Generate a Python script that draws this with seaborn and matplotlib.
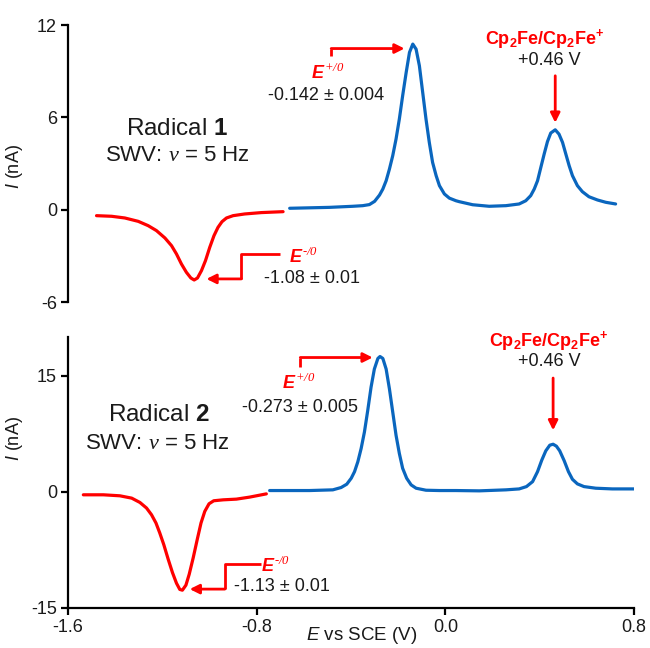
import matplotlib
matplotlib.use("Agg")
import matplotlib.pyplot as plt
import seaborn as sns

# ---------------- data ----------------
top_red_E = [-1.479, -1.415, -1.359, -1.302, -1.260, -1.225, -1.189, -1.161, -1.140,
             -1.119, -1.098, -1.079, -1.065, -1.051, -1.034, -1.017, -0.999, -0.981,
             -0.964, -0.947, -0.928, -0.900, -0.851, -0.780, -0.688]
top_red_I = [-0.39, -0.43, -0.54, -0.76, -1.04, -1.36, -1.84, -2.34, -2.88,
             -3.53, -4.07, -4.44, -4.57, -4.44, -3.96, -3.31, -2.45, -1.69,
             -1.15, -0.78, -0.54, -0.39, -0.28, -0.19, -0.13]

top_blue_E = [-0.660, -0.491, -0.392, -0.350, -0.322, -0.300, -0.279, -0.265, -0.251,
              -0.237, -0.223, -0.209, -0.195, -0.181, -0.166, -0.152, -0.138, -0.124,
              -0.110, -0.096, -0.082, -0.068, -0.054, -0.039, -0.025, -0.004, 0.017,
              0.045, 0.059, 0.116, 0.186, 0.257, 0.313, 0.341, 0.362, 0.377, 0.391,
              0.405, 0.419, 0.433, 0.447, 0.466, 0.482, 0.497, 0.511, 0.525, 0.539,
              0.560, 0.581, 0.609, 0.645, 0.680, 0.722]
top_blue_I = [0.09, 0.15, 0.22, 0.26, 0.33, 0.54, 0.95, 1.34, 1.88,
              2.64, 3.51, 4.59, 5.89, 7.40, 8.92, 10.22, 10.76, 10.43,
              9.35, 7.62, 5.89, 4.37, 3.07, 2.21, 1.56, 1.02, 0.75,
              0.58, 0.52, 0.32, 0.22, 0.26, 0.37, 0.58, 0.91, 1.34, 1.88,
              2.75, 3.61, 4.42, 4.98, 5.19, 4.91, 4.37, 3.61, 2.86, 2.21,
              1.56, 1.17, 0.84, 0.63, 0.48, 0.37]

bot_red_E = [-1.535, -1.450, -1.380, -1.330, -1.295, -1.267, -1.246, -1.227, -1.211,
             -1.194, -1.175, -1.157, -1.140, -1.126, -1.115, -1.100, -1.086, -1.069,
             -1.052, -1.036, -1.020, -1.002, -0.982, -0.942, -0.886, -0.830, -0.759]
bot_red_I = [-0.38, -0.38, -0.51, -0.81, -1.37, -2.09, -2.95, -4.02, -5.30,
             -6.80, -8.72, -10.43, -11.8, -12.6, -12.7, -12.05, -10.64, -8.50,
             -6.15, -4.02, -2.52, -1.54, -1.15, -1.03, -0.94, -0.68, -0.26]

bot_blue_E = [-0.745, -0.576, -0.477, -0.442, -0.418, -0.399, -0.385, -0.371, -0.357,
              -0.343, -0.329, -0.315, -0.301, -0.286, -0.277, -0.265, -0.251, -0.237,
              -0.223, -0.209, -0.195, -0.181, -0.164, -0.145, -0.124, -0.082, -0.025,
              0.045, 0.144, 0.257, 0.313, 0.344, 0.370, 0.391, 0.409, 0.426, 0.443,
              0.457, 0.471, 0.485, 0.504, 0.522, 0.539, 0.560, 0.588, 0.638, 0.708, 0.800]
bot_blue_I = [0.17, 0.17, 0.26, 0.56, 0.99, 1.76, 2.61, 3.89, 5.60,
              7.74, 10.52, 13.51, 15.86, 17.23, 17.48, 17.23, 15.86, 13.29,
              10.30, 7.31, 4.96, 3.04, 1.76, 0.90, 0.47, 0.21, 0.17,
              0.17, 0.13, 0.26, 0.38, 0.68, 1.32, 2.61, 4.10, 5.30, 6.03,
              6.15, 5.90, 5.30, 4.02, 2.61, 1.62, 1.03, 0.68, 0.47, 0.38, 0.38]

x_ticks = [-1.6, -0.8, 0.0, 0.8]
x_tick_labels = ["-1.6", "-0.8", "0.0", "0.8"]
top_y_ticks = [-6, 0, 6, 12]
bot_y_ticks = [-15, 0, 15]

radical_names = ["1", "2"]
e_ox_labels = ["-0.142 \u00b1 0.004", "-0.273 \u00b1 0.005"]
e_red_labels = ["-1.08 \u00b1 0.01", "-1.13 \u00b1 0.01"]
fc_label = r"$\mathbf{Cp_2Fe/Cp_2Fe^{+}}$"
fc_value = "+0.46 V"
e_ox_sym = r"$E^{\mathit{+/0}}$"
e_red_sym = "$E^{\\mathit{\u2010/0}}$"

# ---------------- style ----------------
sns.set_theme(style="ticks")
plt.rcParams["font.family"] = ["Liberation Sans", "DejaVu Sans"]
plt.rcParams["axes.unicode_minus"] = False
plt.rcParams["mathtext.fontset"] = "custom"
plt.rcParams["mathtext.it"] = "Liberation Sans:italic:bold"
plt.rcParams["mathtext.bf"] = "Liberation Sans:bold"
plt.rcParams["mathtext.sf"] = "Liberation Sans:italic"
plt.rcParams["mathtext.rm"] = "Liberation Serif:italic"

RED = "#FF0000"
BLUE = "#0A66BE"
TXT = "#1a1a1a"

fig = plt.figure(figsize=(6.5, 6.48), dpi=100)
ax1 = fig.add_axes([68/650, 1-302/648, 566/650, 277/648])
ax2 = fig.add_axes([68/650, 1-608/648, 566/650, 271/648])

for ax in (ax1, ax2):
    for s in ("top", "right"):
        ax.spines[s].set_visible(False)
    ax.spines["left"].set_linewidth(1.6)
    ax.spines["bottom"].set_linewidth(1.6)
    ax.spines["left"].set_color("black")
    ax.spines["bottom"].set_color("black")
    ax.tick_params(axis="both", direction="out", length=5, width=1.6,
                   labelsize=13, colors="black", labelcolor=TXT, pad=3)
    ax.set_xlim(-1.6, 0.8)
    ax.set_facecolor("none")

ax1.spines["bottom"].set_visible(False)
ax1.tick_params(axis="x", bottom=False, labelbottom=False)
ax1.set_ylim(-6, 12)
ax1.set_yticks(top_y_ticks)
ax1.set_yticklabels([str(v) for v in top_y_ticks])
ax2.set_ylim(-15, 20)
ax2.set_yticks(bot_y_ticks)
ax2.set_yticklabels([str(v) for v in bot_y_ticks])
ax2.set_xticks(x_ticks)
ax2.set_xticklabels(x_tick_labels)

LW = 2.3
line_kw = dict(lw=LW, sort=False, estimator=None, solid_joinstyle="round",
               solid_capstyle="round")
sns.lineplot(x=top_red_E, y=top_red_I, ax=ax1, color=RED, **line_kw)
sns.lineplot(x=top_blue_E, y=top_blue_I, ax=ax1, color=BLUE, **line_kw)
sns.lineplot(x=bot_red_E, y=bot_red_I, ax=ax2, color=RED, **line_kw)
sns.lineplot(x=bot_blue_E, y=bot_blue_I, ax=ax2, color=BLUE, **line_kw)

for ax in (ax1, ax2):
    ax.set_xlabel("")
    ax.set_ylabel(r"$\mathsf{I}$ (nA)", fontsize=13, color=TXT)

ax1.yaxis.set_label_coords(-0.076, 0.49)
ax2.yaxis.set_label_coords(-0.076, 0.627)

fig.text(362/650, 1-636/648, r"$\mathsf{E}$ vs SCE (V)", fontsize=13.5,
         ha="center", va="center", color=TXT)


def elbow_arrow(ax, pts):
    xs = [p[0] for p in pts[:-1]]
    ys = [p[1] for p in pts[:-1]]
    ax.plot(xs, ys, color=RED, lw=2, solid_capstyle="butt")
    ax.annotate("", xy=pts[-1], xytext=pts[-2],
                arrowprops=dict(arrowstyle="-|>", color=RED, lw=2,
                                mutation_scale=14, shrinkA=0, shrinkB=0))


# --- top panel annotations ---
elbow_arrow(ax1, [(-0.484, 10.0), (-0.484, 10.47), (-0.173, 10.47)])
ax1.text(-0.499, 8.9, e_ox_sym, color=RED, fontsize=13, ha="center", va="center")
ax1.text(-0.504, 7.4, e_ox_labels[0], color=TXT, fontsize=13, ha="center", va="center")
elbow_arrow(ax1, [(-0.703, -2.88), (-0.865, -2.88), (-0.865, -4.50), (-1.013, -4.50)])
ax1.text(-0.601, -3.1, e_red_sym, color=RED, fontsize=13, ha="center", va="center")
ax1.text(-0.567, -4.48, e_red_labels[0], color=TXT, fontsize=13, ha="center", va="center")
ax1.text(0.423, 11.1, fc_label, color=RED, fontsize=13, ha="center", va="center")
ax1.text(0.440, 9.68, fc_value, color=TXT, fontsize=13, ha="center", va="center")
ax1.annotate("", xy=(0.466, 5.65), xytext=(0.466, 8.7),
             arrowprops=dict(arrowstyle="-|>", color=RED, lw=2, mutation_scale=14,
                             shrinkA=0, shrinkB=0))
ax1.text(-1.139, 5.26, "Radical $\\mathbf{" + radical_names[0] + "}$", color=TXT,
         fontsize=17.5, ha="center", va="center")
ax1.text(-1.134, 3.5, r"SWV: $\mathrm{\nu}$ = 5 Hz", color=TXT, fontsize=16,
         ha="center", va="center")

# --- bottom panel annotations ---
elbow_arrow(ax2, [(-0.615, 16.07), (-0.615, 17.35), (-0.308, 17.35)])
ax2.text(-0.622, 14.1, e_ox_sym, color=RED, fontsize=13, ha="center", va="center")
ax2.text(-0.618, 10.9, e_ox_labels[1], color=TXT, fontsize=13, ha="center", va="center")
elbow_arrow(ax2, [(-0.78, -9.36), (-0.935, -9.36), (-0.935, -12.56), (-1.084, -12.56)])
ax2.text(-0.72, -9.6, e_red_sym, color=RED, fontsize=13, ha="center", va="center")
ax2.text(-0.694, -12.2, e_red_labels[1], color=TXT, fontsize=13, ha="center", va="center")
ax2.text(0.440, 19.5, fc_label, color=RED, fontsize=13, ha="center", va="center")
ax2.text(0.440, 16.8, fc_value, color=TXT, fontsize=13, ha="center", va="center")
ax2.annotate("", xy=(0.457, 7.95), xytext=(0.457, 14.7),
             arrowprops=dict(arrowstyle="-|>", color=RED, lw=2, mutation_scale=14,
                             shrinkA=0, shrinkB=0))
ax2.text(-1.215, 9.87, "Radical $\\mathbf{" + radical_names[1] + "}$", color=TXT,
         fontsize=17.5, ha="center", va="center")
ax2.text(-1.219, 6.28, r"SWV: $\mathrm{\nu}$ = 5 Hz", color=TXT, fontsize=16,
         ha="center", va="center")

fig.savefig("out.png", dpi=100)
